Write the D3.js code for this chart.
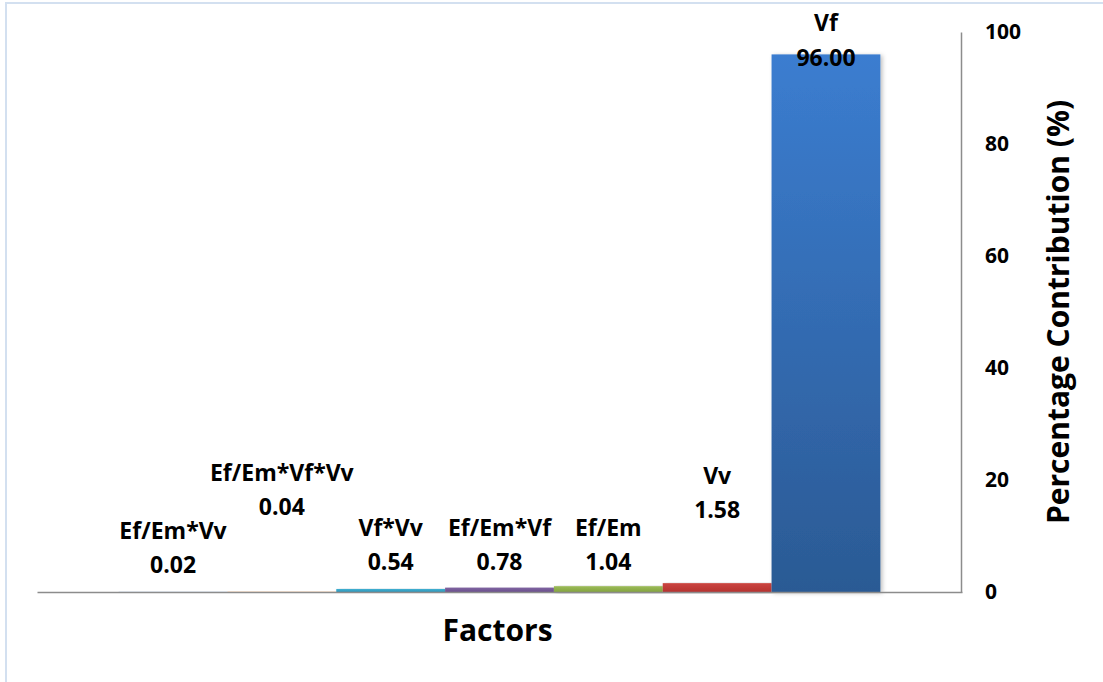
<!DOCTYPE html>
<html>
<head>
<meta charset="utf-8">
<script src="https://cdn.jsdelivr.net/npm/d3@7"></script>
<style>
  html, body { margin: 0; padding: 0; background: #ffffff; }
  svg { display: block; }
  text { font-family: "Open Sans", "Noto Sans", sans-serif; font-weight: bold; fill: #000; }
</style>
</head>
<body>
<svg id="chart" width="1103" height="682"></svg>
<script>
// Factor contributions (%)
const factors = ["Ef/Em*Vv", "Ef/Em*Vf*Vv", "Vf*Vv", "Ef/Em*Vf", "Ef/Em", "Vv", "Vf"];
const contributions = [0.02, 0.04, 0.54, 0.78, 1.04, 1.58, 96.00];
const yTicks = [0, 20, 40, 60, 80, 100];
// top / bottom shades for each bar's gradient
const colorsTop = ["#4f81bd", "#f79646", "#3fb0d2", "#8064a2", "#9bbb59", "#cb4541", "#3b7dd0"];
const colorsBottom = ["#3c6496", "#c07030", "#2e95b8", "#6a4f8c", "#84a43f", "#b5322f", "#2b5a94"];

const svg = d3.select("#chart");
const W = 1103, H = 682;

// outer frame (only top and left edges fall inside the canvas)
svg.append("line").attr("x1", 6).attr("x2", W).attr("y1", 3).attr("y2", 3)
  .attr("stroke", "#d3e0f0").attr("stroke-width", 2);
svg.append("line").attr("x1", 6).attr("x2", 6).attr("y1", 2).attr("y2", H)
  .attr("stroke", "#d3e0f0").attr("stroke-width", 2);

const plot = { left: 37, right: 962, top: 32, bottom: 592 };

const x = d3.scaleBand()
  .domain(factors)
  .range([plot.left, plot.right])
  .paddingInner(0)
  .paddingOuter(0.75);

const y = d3.scaleLinear()
  .domain([0, 100])
  .range([plot.bottom, plot.top]);

const defs = svg.append("defs");
factors.forEach((f, i) => {
  const g = defs.append("linearGradient")
    .attr("id", "grad" + i)
    .attr("x1", 0).attr("y1", 0).attr("x2", 0).attr("y2", 1);
  g.append("stop").attr("offset", "0%").attr("stop-color", colorsTop[i]);
  g.append("stop").attr("offset", "100%").attr("stop-color", colorsBottom[i]);
});
const shadow = defs.append("filter").attr("id", "shadow")
  .attr("x", "-10%").attr("y", "-10%").attr("width", "130%").attr("height", "130%");
shadow.append("feDropShadow").attr("dx", 2).attr("dy", 1).attr("stdDeviation", 2)
  .attr("flood-color", "#000").attr("flood-opacity", 0.25);

const data = factors.map((f, i) => ({ name: f, value: contributions[i], i }));

// bars
svg.append("g").selectAll("rect")
  .data(data)
  .join("rect")
  .attr("x", d => x(d.name))
  .attr("width", x.bandwidth())
  .attr("y", d => y(d.value))
  .attr("height", d => y(0) - y(d.value))
  .attr("fill", d => `url(#grad${d.i})`)
  .attr("filter", "url(#shadow)");

// axes: baseline and right-hand value axis
const yAxis = d3.axisRight(y).tickValues(yTicks).tickSize(0).tickPadding(24)
  .tickFormat(d3.format("d"));
const yg = svg.append("g").attr("transform", `translate(${plot.right - 1},0)`).call(yAxis);
yg.select(".domain").attr("stroke", "#8c8c8c").attr("stroke-width", 1.5);
yg.selectAll("text").style("font-size", "21px")
  .style("font-family", "'Open Sans', sans-serif").style("font-weight", "bold")
  .attr("fill", "#000");

const xAxis = d3.axisBottom(x).tickSize(0).tickFormat("");
const xg = svg.append("g").attr("transform", `translate(0,${plot.bottom})`).call(xAxis);
xg.select(".domain").attr("stroke", "#8c8c8c").attr("stroke-width", 1.5);

// data labels: name above value; vertical offset (px above the baseline) per label
const labelLift = { "Ef/Em*Vv": 27, "Ef/Em*Vf*Vv": 85, "Vf*Vv": 30, "Ef/Em*Vf": 30, "Ef/Em": 30, "Vv": 82 };
const labels = svg.append("g").selectAll("g")
  .data(data)
  .join("g")
  .attr("transform", d => {
    const cx = x(d.name) + x.bandwidth() / 2;
    const cy = d.name in labelLift ? plot.bottom - labelLift[d.name] : y(d.value) + 3;
    return `translate(${cx},${cy})`;
  });
labels.append("text")
  .attr("text-anchor", "middle").attr("dy", "-1.15em")
  .style("font-size", "23px")
  .text(d => d.name);
labels.append("text")
  .attr("text-anchor", "middle").attr("dy", "0.36em")
  .style("font-size", "23px")
  .text(d => d.value.toFixed(2));

// axis titles
svg.append("text")
  .attr("x", (plot.left + plot.right) / 2 - 2).attr("y", 630)
  .attr("text-anchor", "middle").attr("dy", "0.36em")
  .style("font-size", "30px")
  .text("Factors");

svg.append("text")
  .attr("transform", "translate(1058,312) rotate(-90)")
  .attr("text-anchor", "middle").attr("dy", "0.36em")
  .style("font-size", "30px")
  .text("Percentage Contribution (%)");
</script>
</body>
</html>
